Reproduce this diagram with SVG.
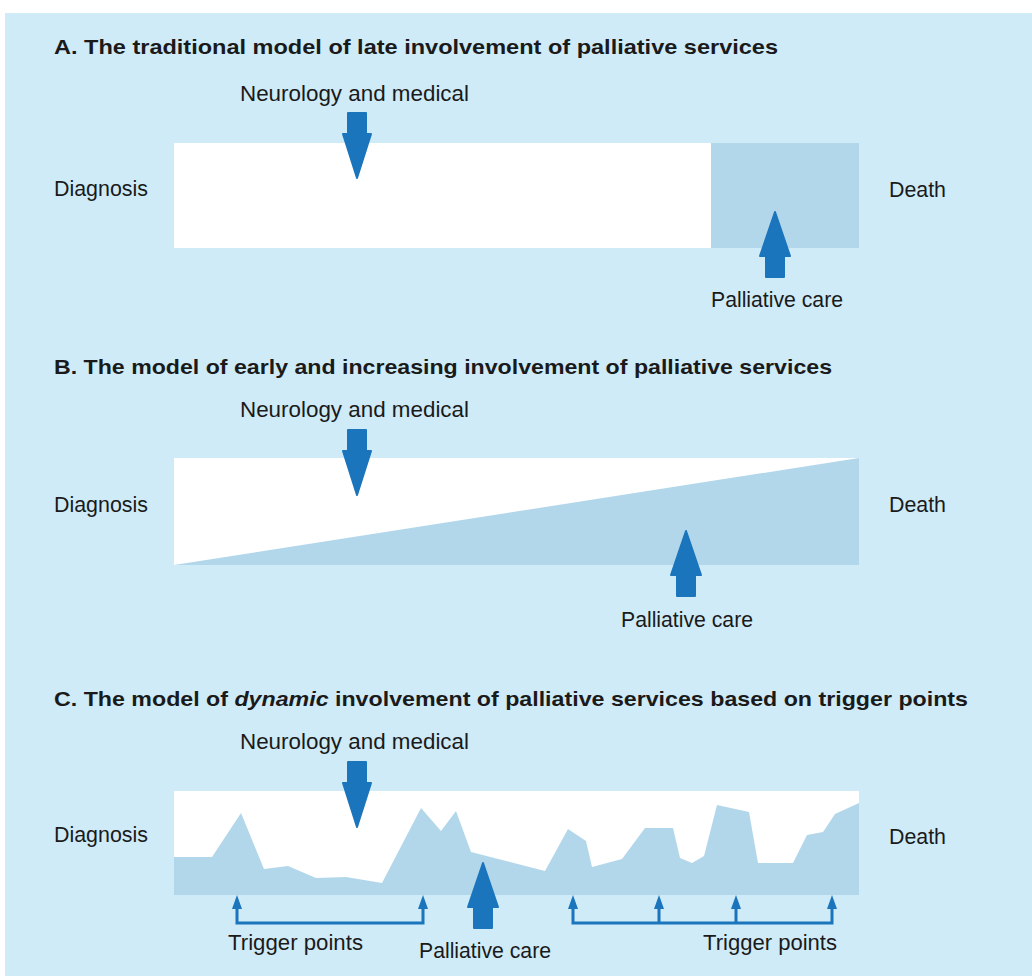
<svg xmlns="http://www.w3.org/2000/svg" width="1032" height="976" viewBox="0 0 1032 976">
<style>
.t{font-family:"Liberation Sans",Arial,sans-serif;font-size:22px;fill:#1a1a1a}
.h{font-family:"Liberation Sans",Arial,sans-serif;font-size:21px;font-weight:bold;fill:#1a1a1a}
.bar{fill:#ffffff}
.pal{fill:#b2d7eb}
.arr{fill:#1a75bc;stroke:#1a75bc;stroke-width:2;stroke-linejoin:round}
.tl{fill:none;stroke:#1a75bc;stroke-width:3}
.th{fill:#1a75bc}
</style>
<rect x="0" y="0" width="1032" height="976" fill="#ffffff"/>
<rect x="5" y="13" width="1027" height="963" fill="#cfebf8"/>

<g id="panelA">
<text class="h" x="54" y="54" textLength="724" lengthAdjust="spacingAndGlyphs">A. The traditional model of late involvement of palliative services</text>
<rect class="bar" x="174" y="143" width="537" height="105"/>
<rect class="pal" x="711" y="143" width="148" height="105"/>
<text class="t" x="240" y="101" textLength="229" lengthAdjust="spacingAndGlyphs">Neurology and medical</text>
<text class="t" x="54" y="196" textLength="94" lengthAdjust="spacingAndGlyphs">Diagnosis</text>
<text class="t" x="889" y="197" textLength="57" lengthAdjust="spacingAndGlyphs">Death</text>
<text class="t" x="711" y="307" textLength="132" lengthAdjust="spacingAndGlyphs">Palliative care</text>
<path id="A-neuro-arrow" class="arr" d="M348,113 H366 V134 H371 L357,178 L343,134 H348 Z"/>
<path id="A-pal-arrow" class="arr" d="M775,212 L790,256 H784 V277 H766 V256 H760 Z"/>
</g>

<g id="panelB">
<text class="h" x="54" y="374" textLength="778" lengthAdjust="spacingAndGlyphs">B. The model of early and increasing involvement of palliative services</text>
<rect class="bar" x="174" y="458" width="685" height="107"/>
<polygon class="pal" points="174,565 859,458 859,565"/>
<text class="t" x="240" y="417" textLength="229" lengthAdjust="spacingAndGlyphs">Neurology and medical</text>
<text class="t" x="54" y="512" textLength="94" lengthAdjust="spacingAndGlyphs">Diagnosis</text>
<text class="t" x="889" y="512" textLength="57" lengthAdjust="spacingAndGlyphs">Death</text>
<text class="t" x="621" y="627" textLength="132" lengthAdjust="spacingAndGlyphs">Palliative care</text>
<path id="B-neuro-arrow" class="arr" d="M348,430 H366 V451 H371 L357,495 L343,451 H348 Z"/>
<path id="B-pal-arrow" class="arr" d="M686,531 L701,575 H695 V596 H677 V575 H671 Z"/>
</g>

<g id="panelC">
<text class="h" x="54" y="706" textLength="914" lengthAdjust="spacingAndGlyphs">C. The model of <tspan font-style="italic">dynamic</tspan> involvement of palliative services based on trigger points</text>
<rect class="bar" x="174" y="791" width="685" height="104"/>
<polygon class="pal" points="174,857 212,857 241,813 264,869 288,866 316,878 346,877 382,883 421,808 441,831 456,811 471,852 545,871 568,829 586,841 592,867 622,859 645,828 673,828 680,858 692,863 704,856 717,805 749,812 758,863 793,863 807,835 823,832 835,814 859,803 859,895 174,895"/>
<text class="t" x="240" y="749" textLength="229" lengthAdjust="spacingAndGlyphs">Neurology and medical</text>
<text class="t" x="54" y="842" textLength="94" lengthAdjust="spacingAndGlyphs">Diagnosis</text>
<text class="t" x="889" y="844" textLength="57" lengthAdjust="spacingAndGlyphs">Death</text>
<text class="t" x="419" y="958" textLength="132" lengthAdjust="spacingAndGlyphs">Palliative care</text>
<text class="t" x="228" y="950" textLength="135" lengthAdjust="spacingAndGlyphs">Trigger points</text>
<text class="t" x="703" y="950" textLength="134" lengthAdjust="spacingAndGlyphs">Trigger points</text>
<path id="C-neuro-arrow" class="arr" d="M348,762 H366 V783 H371 L357,827 L343,783 H348 Z"/>
<path id="C-pal-arrow" class="arr" d="M483,863 L498,907 H492 V928 H474 V907 H468 Z"/>
</g>

<g id="connectors">
<path class="tl" d="M237,906 V923 H423 V906"/>
<path class="tl" d="M573,906 V923 H832 V906 M659,906 V923 M736,906 V923"/>
<path class="th" d="M237,895 L242,909 H232 Z"/>
<path class="th" d="M423,895 L428,909 H418 Z"/>
<path class="th" d="M573,895 L578,909 H568 Z"/>
<path class="th" d="M659,895 L664,909 H654 Z"/>
<path class="th" d="M736,895 L741,909 H731 Z"/>
<path class="th" d="M832,895 L837,909 H827 Z"/>
</g>
</svg>
